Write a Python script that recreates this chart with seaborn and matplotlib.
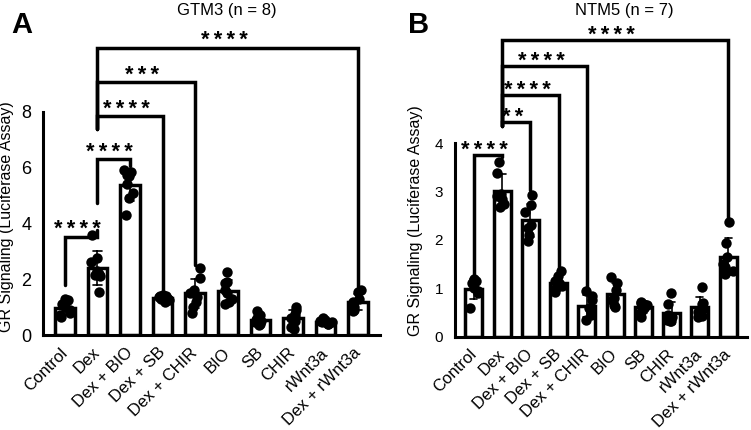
import numpy as np
import matplotlib.pyplot as plt
import pandas as pd
import seaborn as sns

groups = ["Control", "Dex", "Dex + BIO", "Dex + SB", "Dex + CHIR",
          "BIO", "SB", "CHIR", "rWnt3a", "Dex + rWnt3a"]

# GTM3, n = 8 per group
gtm3_vals = [
    [1.3, 1.25, 1.1, 1.0, 0.9, 0.8, 0.7, 0.65],
    [3.6, 2.75, 2.6, 2.3, 2.2, 2.15, 2.1, 1.55],
    [5.9, 5.85, 5.75, 5.7, 5.4, 5.1, 4.9, 4.3],
    [1.45, 1.4, 1.4, 1.35, 1.3, 1.3, 1.25, 1.2],
    [2.4, 2.05, 1.6, 1.5, 1.35, 1.2, 1.0, 0.8],
    [2.25, 1.9, 1.85, 1.6, 1.5, 1.3, 1.2, 1.1],
    [0.85, 0.7, 0.6, 0.55, 0.5, 0.45, 0.4, 0.35],
    [1.0, 0.9, 0.75, 0.65, 0.6, 0.5, 0.3, 0.2],
    [0.6, 0.55, 0.5, 0.5, 0.45, 0.45, 0.4, 0.4],
    [1.6, 1.55, 1.3, 1.2, 1.1, 1.0, 0.9, 0.85],
]

# NTM5, n = 7 per group
ntm5_vals = [
    [1.2, 1.15, 1.1, 1.0, 0.95, 0.9, 0.6],
    [3.62, 3.38, 2.95, 2.9, 2.85, 2.75, 2.68],
    [2.93, 2.72, 2.58, 2.3, 2.25, 2.1, 1.98],
    [1.35, 1.25, 1.15, 1.1, 1.05, 1.0, 0.92],
    [0.95, 0.85, 0.75, 0.6, 0.5, 0.45, 0.35],
    [1.24, 1.1, 0.97, 0.8, 0.75, 0.65, 0.62],
    [0.72, 0.7, 0.68, 0.66, 0.6, 0.5, 0.4],
    [0.9, 0.68, 0.45, 0.4, 0.35, 0.33, 0.32],
    [1.02, 0.7, 0.68, 0.55, 0.5, 0.42, 0.4],
    [2.38, 1.93, 1.65, 1.5, 1.45, 1.35, 1.3],
]

# comparisons: (group a, group b, label)
gtm3_comps = [("Control", "Dex", "****"), ("Dex", "Dex + BIO", "****"),
              ("Dex", "Dex + SB", "****"), ("Dex", "Dex + CHIR", "***"),
              ("Dex", "Dex + rWnt3a", "****")]
ntm5_comps = [("Control", "Dex", "****"), ("Dex", "Dex + BIO", "**"),
              ("Dex", "Dex + SB", "****"), ("Dex", "Dex + CHIR", "****"),
              ("Dex", "Dex + rWnt3a", "****")]

# bracket geometry (top, left leg end, right leg end)
gtm3_brk = [(3.52, 1.8, 3.75), (6.3, 4.73, 6.05), (7.85, 7.4, 1.55),
            (9.05, 7.4, 2.5), (10.3, 7.4, 1.7)]
ntm5_brk = [(3.76, 1.27, 3.72), (4.44, 4.36, 3.03), (4.99, 4.36, 1.38),
            (5.59, 4.36, 0.98), (6.14, 4.36, 2.45)]


def make_df(vals):
    rows = []
    for g, v in zip(groups, vals):
        for x in v:
            rows.append((g, x))
    return pd.DataFrame(rows, columns=["group", "value"])


def draw_panel(ax, vals, comps, brk, ymax, ytop, yticks, tick_fs, star_off):
    df = make_df(vals)
    sns.barplot(data=df, x="group", y="value", order=groups, ax=ax,
                errorbar="sd", capsize=0.25, width=0.6,
                color="white", edgecolor="black", linewidth=2.5,
                err_kws={"color": "black", "linewidth": 1.2})
    np.random.seed(3)
    sns.stripplot(data=df, x="group", y="value", order=groups, ax=ax,
                  color="black", size=7.5, jitter=0.2, zorder=5)
    for (a, b, lab), (yb, yl, yr) in zip(comps, brk):
        x1, x2 = groups.index(a), groups.index(b)
        ax.plot([x1, x1, x2, x2], [yl, yb, yb, yr], color="black", lw=2.5,
                solid_joinstyle="miter", zorder=6)
        ax.annotate("\u2009".join(lab), ((x1 + x2) / 2 - 0.12, yb),
                    xytext=(0, star_off), textcoords="offset points",
                    ha="center", va="baseline", fontsize=15.5, fontweight="bold")
    ax.set_xlim(-0.67, 9.67)
    ax.set_ylim(0, ytop)
    ax.set_yticks(yticks)
    ax.spines["left"].set_bounds(0, ymax)
    ax.spines["bottom"].set_bounds(-0.67, 9.67)
    for s in ["top", "right"]:
        ax.spines[s].set_visible(False)
    for s in ["left", "bottom"]:
        ax.spines[s].set_linewidth(2.2)
    ax.tick_params(axis="both", width=2.2, length=7, pad=1.5)
    ax.tick_params(axis="y", labelsize=tick_fs)
    ax.set_xticks(range(len(groups)))
    ax.set_xticklabels(groups, rotation=45, ha="right", va="center",
                       rotation_mode="anchor", fontsize=12)
    ax.tick_params(axis="x", pad=4)
    ax.set_xlabel("")
    ax.set_ylabel("GR Signaling (Luciferase Assay)", fontsize=11.5)


sns.set_style("white")
plt.rcParams["font.family"] = ["Liberation Sans", "DejaVu Sans"]
for k in ["text.color", "axes.labelcolor", "xtick.color", "ytick.color", "axes.edgecolor"]:
    plt.rcParams[k] = "black"

fig = plt.figure(figsize=(7.51, 4.30), dpi=100)
axA = fig.add_axes([43 / 751, 95 / 430, 337 / 751, 315 / 430])
axB = fig.add_axes([455 / 751, 93.4 / 430, 292 / 751, 316.6 / 430])

draw_panel(axA, gtm3_vals, gtm3_comps, gtm3_brk, 8, 11.29, [0, 2, 4, 6, 8], 13, 1)
draw_panel(axB, ntm5_vals, ntm5_comps, ntm5_brk, 4, 6.55, [0, 1, 2, 3, 4], 11, -0.5)
axA.yaxis.set_label_coords(-0.086, 0.375)
axB.yaxis.set_label_coords(-0.11, 0.365)

fig.text(227 / 751, 1 - 11 / 430, "GTM3 (n = 8)", ha="center", va="center", fontsize=12)
fig.text(624 / 751, 1 - 11 / 430, "NTM5 (n = 7)", ha="center", va="center", fontsize=12)
fig.text(22 / 751, 1 - 25 / 430, "A", ha="center", va="center", fontsize=21, fontweight="bold")
fig.text(419 / 751, 1 - 25 / 430, "B", ha="center", va="center", fontsize=21, fontweight="bold")

fig.savefig("out.png", dpi=100)
